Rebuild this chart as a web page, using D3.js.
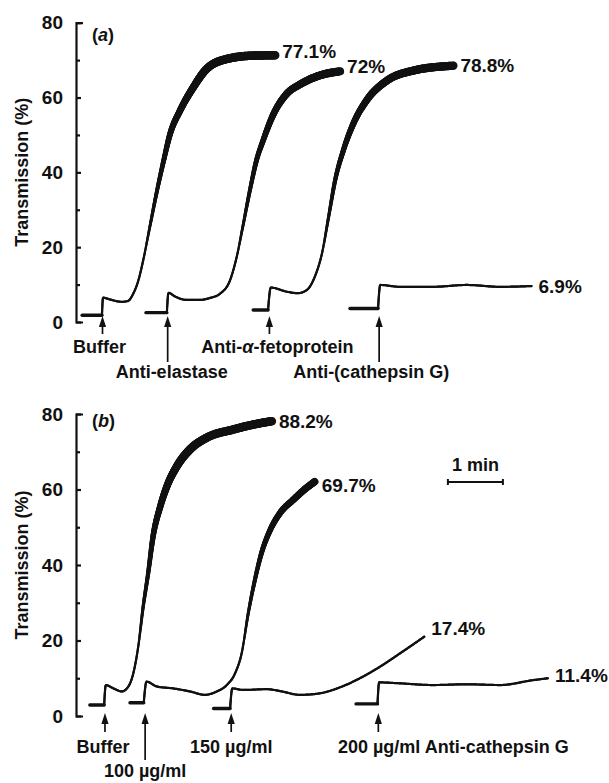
<!DOCTYPE html>
<html lang="en">
<head>
<meta charset="utf-8">
<title>Transmission</title>
<script src="https://d3js.org/d3.v7.min.js"></script>
<style>
  body { margin: 0; background: #fff; }
  svg text { font-family: "Liberation Sans", Arial, sans-serif; font-weight: bold; fill: #111; }
  .axis path, .axis line { stroke: #111; stroke-width: 2.2; fill: none; }
  .axis text { font-size: 19px; }
</style>
</head>
<body>
<script>
// traces: [time (min), transmission (%)], first two points = baseline before addition
var aBuffer = [[0.13,1.8],[0.49,1.8],[0.51,6.5],[0.64,6.0],[0.85,5.4],[0.96,5.6],[1.06,7.6],[1.15,11],[1.24,16.5],[1.36,25.4],[1.49,35],[1.61,43],[1.73,50.3],[1.91,56.5],[2.15,62.7],[2.39,67.6],[2.76,70.3],[3.24,71.2],[3.64,71.3]]
var aElastase = [[1.29,2.5],[1.67,2.5],[1.70,7.8],[1.82,6.8],[2.03,5.9],[2.27,5.9],[2.45,6.4],[2.64,7.6],[2.82,11.2],[2.94,17.4],[3.05,25.4],[3.18,35.2],[3.30,43.2],[3.42,48.5],[3.61,55.6],[3.85,61],[4.09,63.5],[4.45,65.9],[4.82,67]]
var aFeto = [[3.24,3.2],[3.51,3.2],[3.56,9.2],[3.85,8.1],[4.05,7.7],[4.21,8.5],[4.36,12.1],[4.49,18.3],[4.61,28],[4.73,37.9],[4.88,45.9],[5.06,53],[5.30,59.2],[5.67,64.5],[6.15,67.2],[6.88,68.5]]
var aCathepsin = [[5.0,3.6],[5.51,3.6],[5.55,9.9],[5.91,9.4],[6.51,9.4],[7.12,9.9],[7.73,9.4],[8.30,9.6]]

var bBuffer = [[0.27,2.9],[0.53,2.9],[0.56,8.2],[0.70,7.3],[0.85,6.5],[0.97,7.8],[1.06,11.3],[1.15,18.4],[1.24,29],[1.33,37.8],[1.42,47.6],[1.55,55.5],[1.67,60.8],[1.85,66.1],[2.09,70.6],[2.39,73.7],[2.88,75.9],[3.24,77.2],[3.58,78.1]]
var b100 = [[1.0,3.5],[1.25,3.5],[1.30,9.1],[1.49,7.8],[1.79,7.3],[2.09,6.5],[2.36,5.6],[2.58,6.5],[2.76,8.2],[2.91,11.3],[3.03,16.6],[3.15,27.2],[3.27,36],[3.39,43.1],[3.55,49.3],[3.73,53.8],[3.97,57.3],[4.24,60.8],[4.36,62.1]]
var b150 = [[2.52,2.0],[2.82,2.0],[2.86,7.3],[3.06,6.9],[3.49,7.1],[3.73,6.6],[4.09,5.6],[4.45,6.0],[4.82,7.6],[5.18,10],[5.55,13.1],[5.91,16.6],[6.35,21]]
var b200 = [[5.11,3.2],[5.50,3.2],[5.53,8.9],[5.85,8.7],[6.51,8.2],[7.12,8.4],[7.73,8.2],[8.33,9.5],[8.60,10]]

var aArrowLabels = ["Buffer", "Anti-elastase", "Anti-\u03b1-fetoprotein", "Anti-(cathepsin G)"]
var bArrowLabels = ["Buffer", "100 \u00b5g/ml", "150 \u00b5g/ml", "200 \u00b5g/ml Anti-cathepsin G"]
var aEndLabels = ["77.1%", "72%", "78.8%", "6.9%"]
var bEndLabels = ["88.2%", "69.7%", "17.4%", "11.4%"]

var yTicks = [0, 20, 40, 60, 80]
var yMinor = [10, 30, 50, 70]
var scaleBarStart = 6.78   // min

var w = 609, h = 783

var svg = d3.select("body").append("svg").attr("width", w).attr("height", h)

var x = d3.scaleLinear().domain([0, 9]).range([75, 570])

var widthFor = d3.scaleLinear().domain([0, 20, 45, 70]).range([2.2, 2.2, 5, 8.5]).clamp(true)

var panels = [
    {tag: "a", traces: [aBuffer, aElastase, aFeto, aCathepsin], arrowLabels: aArrowLabels, endLabels: aEndLabels,
     top: 22.7, bottom: 322, tagY: 41, tip: -6, shaft: [12, 40], rows: [31, 56],
     labelDx: [-3, 4, 8, -8], labelRow: [0, 1, 0, 1], endDy: [-4, -5, 0, 0]},
    {tag: "b", traces: [bBuffer, b100, b150, b200], arrowLabels: bArrowLabels, endLabels: bEndLabels,
     top: 414, bottom: 716, tagY: 427, tip: -3, shaft: [16, 44], rows: [37, 61],
     labelDx: [-2, 0, 0, 75], labelRow: [0, 1, 0, 0], endDy: [0, 4, -8, -3]}
]

function drawTrace(g, y, data) {
    var line = d3.line().x(function(d) { return x(d[0]) }).y(function(d) { return y(d[1]) })

    // baseline before the addition
    g.append("path").attr("d", line(data.slice(0, 2)))
        .attr("fill", "none").attr("stroke", "#111").attr("stroke-width", 3.4).attr("stroke-linecap", "round")

    // the response, heavier where the recorder trace gets noisy
    var p = g.append("path").attr("d", line.curve(d3.curveMonotoneX)(data.slice(1)))
        .attr("fill", "none").attr("stroke", "none")
    var node = p.node(), len = node.getTotalLength()
    var pts = d3.range(0, len, 1.2).map(function(l) { return node.getPointAtLength(l) })
    pts.push(node.getPointAtLength(len))
    for (var i = 0; i < pts.length - 1; i++) {
        var v = y.invert((pts[i].y + pts[i + 1].y) / 2)
        g.append("line")
            .attr("x1", pts[i].x).attr("y1", pts[i].y).attr("x2", pts[i + 1].x).attr("y2", pts[i + 1].y)
            .attr("stroke", "#111").attr("stroke-width", widthFor(v)).attr("stroke-linecap", "round")
    }
    p.remove()
}

panels.forEach(function(pn) {
    var g = svg.append("g")
    var y = d3.scaleLinear().domain([0, 80]).range([pn.bottom, pn.top])

    g.append("g").attr("class", "axis").attr("transform", "translate(76,0)")
        .call(d3.axisLeft(y).tickValues(yTicks).tickSizeInner(-5).tickSizeOuter(-7).tickPadding(13).tickFormat(d3.format("d")))
    var minor = g.append("g").attr("class", "axis").attr("transform", "translate(76,0)")
        .call(d3.axisLeft(y).tickValues(yMinor).tickSize(-4).tickFormat(""))
    minor.select(".domain").remove()

    g.append("text")
        .attr("transform", "translate(28," + ((pn.top + pn.bottom) / 2) + ") rotate(-90)")
        .attr("text-anchor", "middle").style("font-size", "18px")
        .text("Transmission (%)")

    var tag = g.append("text").attr("x", 92).attr("y", pn.tagY).style("font-size", "18px")
    tag.append("tspan").text("(")
    tag.append("tspan").style("font-style", "italic").text(pn.tag)
    tag.append("tspan").text(")")

    pn.traces.forEach(function(tr, i) {
        drawTrace(g, y, tr)

        // end value label
        var last = tr[tr.length - 1]
        g.append("text").attr("x", x(last[0]) + 7).attr("y", y(last[1]) + pn.endDy[i])
            .attr("dominant-baseline", "central").style("font-size", "19px")
            .text(pn.endLabels[i])

        // addition arrow
        var ax = x((tr[1][0] + tr[2][0]) / 2)
        var tipY = pn.bottom + pn.tip
        var row = pn.labelRow[i]
        g.append("line").attr("x1", ax).attr("x2", ax).attr("y1", tipY + 8).attr("y2", pn.bottom + pn.shaft[row])
            .attr("stroke", "#111").attr("stroke-width", 1.7)
        g.append("path")
            .attr("d", "M" + ax + "," + tipY + "L" + (ax + 3.6) + "," + (tipY + 11) + "L" + (ax - 3.6) + "," + (tipY + 11) + "Z")
            .attr("fill", "#111")

        var lab = g.append("text").attr("x", ax + pn.labelDx[i]).attr("y", pn.bottom + pn.rows[row])
            .attr("text-anchor", "middle").style("font-size", "18px")
        var txt = pn.arrowLabels[i]
        var k = txt.indexOf("\u03b1")
        if (k >= 0) {
            lab.append("tspan").text(txt.slice(0, k))
            lab.append("tspan").style("font-style", "italic").text("\u03b1")
            lab.append("tspan").text(txt.slice(k + 1))
        } else {
            lab.text(txt)
        }
    })

    if (pn.tag == "b") {
        var x1 = x(scaleBarStart), x2 = x(scaleBarStart + 1), by = 482
        g.append("line").attr("x1", x1).attr("x2", x2).attr("y1", by).attr("y2", by).attr("stroke", "#111").attr("stroke-width", 2)
        g.append("line").attr("x1", x1).attr("x2", x1).attr("y1", by - 3).attr("y2", by + 3).attr("stroke", "#111").attr("stroke-width", 2)
        g.append("line").attr("x1", x2).attr("x2", x2).attr("y1", by - 3).attr("y2", by + 3).attr("stroke", "#111").attr("stroke-width", 2)
        g.append("text").attr("x", (x1 + x2) / 2).attr("y", by - 11).attr("text-anchor", "middle")
            .style("font-size", "18px").text("1 min")
    }
})
</script>
</body>
</html>
